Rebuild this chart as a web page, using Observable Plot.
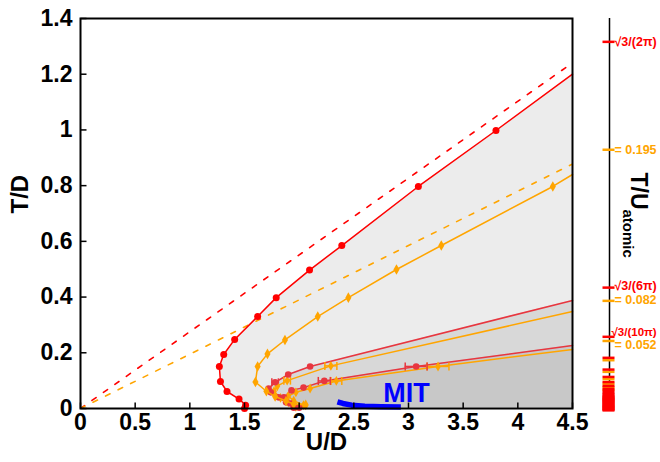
<!DOCTYPE html>
<html>
<head>
<meta charset="utf-8">
<script src="https://cdn.jsdelivr.net/npm/d3@7"></script>
<script src="https://cdn.jsdelivr.net/npm/@observablehq/plot@0.6"></script>
<style>
  html, body { margin: 0; padding: 0; background: #fff; }
  svg { display: block; }
</style>
</head>
<body>
<script>
// ---------- data ----------
const xTicks = [0, 0.5, 1, 1.5, 2, 2.5, 3, 3.5, 4, 4.5];
const xTickLabels = ["0", "0.5", "1", "1.5", "2", "2.5", "3", "3.5", "4", "4.5"];
const yTicks = [0, 0.2, 0.4, 0.6, 0.8, 1, 1.2, 1.4];
const yTickLabels = ["0", "0.2", "0.4", "0.6", "0.8", "1", "1.2", "1.4"];

// main boundary curves (U/D, T/D)
const redMainU = [1.50, 1.51, 1.45, 1.34, 1.28, 1.27, 1.31, 1.41, 1.62, 1.79, 2.095, 2.39, 3.09, 3.80, 4.50];
const redMainT = [0.000, 0.012, 0.034, 0.061, 0.097, 0.151, 0.194, 0.248, 0.330, 0.398, 0.497, 0.585, 0.797, 0.998, 1.200];
const orMainU = [2.06, 1.95, 1.88, 1.78, 1.70, 1.60, 1.62, 1.71, 1.87, 2.17, 2.45, 2.89, 3.30, 4.32, 4.50];
const orMainT = [0.013, 0.016, 0.027, 0.043, 0.062, 0.095, 0.151, 0.196, 0.246, 0.330, 0.398, 0.499, 0.585, 0.797, 0.840];

// inner curves
const redUpU = [1.95, 1.88, 1.81, 1.74, 1.72, 1.78, 1.90, 2.10, 4.50];
const redUpT = [0.003, 0.022, 0.040, 0.058, 0.072, 0.094, 0.122, 0.151, 0.388];
const orUpU = [1.97, 1.90, 1.83, 1.77, 1.80, 1.89, 2.29, 4.50];
const orUpT = [0.006, 0.022, 0.038, 0.062, 0.080, 0.100, 0.153, 0.348];
const redLoU = [2.00, 1.92, 1.86, 1.93, 2.04, 2.23, 3.07, 4.50];
const redLoT = [0.003, 0.018, 0.040, 0.065, 0.075, 0.099, 0.151, 0.226];
const orLoU = [2.04, 1.95, 1.90, 1.97, 2.10, 2.34, 3.27, 4.50];
const orLoT = [0.012, 0.028, 0.045, 0.058, 0.072, 0.099, 0.151, 0.212];

// error bars on inner curves
const errU = [3.07, 3.27, 2.29, 2.23, 2.34, 1.78, 1.89];
const errT = [0.151, 0.151, 0.153, 0.099, 0.099, 0.094, 0.100];
const errE = [0.10, 0.10, 0.055, 0.055, 0.05, 0.03, 0.03];
const errSeries = ["red", "orange", "orange", "red", "orange", "red", "orange"];

// high-T asymptotes T = slope * U
const asymU = [0, 4.5];
const slopeRed = 0.2757;   // sqrt(3)/(2 pi)
const slopeOrange = 0.195;

// MIT line
const mitU = [2.35, 2.40, 2.48, 2.60, 2.75, 2.93];
const mitT = [0.024, 0.018, 0.012, 0.008, 0.006, 0.005];
const mitLabel = [{U: 2.77, T: 0.022, text: "MIT"}];

// right axis: T/U_atomic
const rightRedT = [0.2757, 0.0919, 0.0551, 0.0394, 0.0306, 0.0251, 0.0212, 0.0184, 0.0162, 0.0145, 0.0131,
  0.0120, 0.0110, 0.0102, 0.0095, 0.0089, 0.0083, 0.0077, 0.0071, 0.0064, 0.0057, 0.0050, 0.0043, 0.0036,
  0.0030, 0.0024, 0.0018, 0.0012, 0.0006, 0.0001];
const rightOrangeT = [0.195, 0.082, 0.052, 0.0376, 0.0289, 0.0234, 0.0200, 0.0175, 0.0155];
const rightLabels = ["\u221A3/(2\u03C0)", "= 0.195", "\u221A3/(6\u03C0)", "= 0.082", "\u221A3/(10\u03C0)", "= 0.052"];
const rightLabelT = [0.2757, 0.195, 0.0919, 0.082, 0.0551, 0.052];
const rightLabelSeries = ["red", "orange", "red", "orange", "red", "orange"];

// ---------- styling / layout ----------
const FONT = '"Liberation Sans", Arial, Helvetica, sans-serif';
const COL = {red: "#ff0000", orange: "#ffa500"};
const COL_INNER = {red: "#e8363f", orange: "#ffa500"};
const xMax = 4.5;
const K = 4.8;               // T/D per unit of T/U on the right axis
const labelNudgeY = [0, 0, -2, -1, -5, 4];
const labelDx = [42, 42, 42, 42, 39, 42];
const labelSize = [12.5, 12.5, 12.5, 12.5, 11.5, 12.5];

const zip = (U, T) => U.map((u, i) => ({U: u, T: T[i]}));
const redMain = zip(redMainU, redMainT);
const orMain = zip(orMainU, orMainT);
const redUp = zip(redUpU, redUpT);
const orUp = zip(orUpU, orUpT);
const redLo = zip(redLoU, redLoT);
const orLo = zip(orLoU, orLoT);
const mit = zip(mitU, mitT);
const errs = errU.map((u, i) => ({U: u, T: errT[i], e: errE[i], s: errSeries[i]}));
const asymRed = asymU.map(u => ({U: u, T: slopeRed * u}));
const asymOr = asymU.map(u => ({U: u, T: slopeOrange * u}));

const tickUp = {draw(c) { c.moveTo(0, 0); c.lineTo(0, -6); }};
const tickRight = {draw(c) { c.moveTo(0, 0); c.lineTo(6, 0); }};
const rightTick = {draw(c) { c.moveTo(-7, 0); c.lineTo(5, 0); }};
const capSym = {draw(c) { c.moveTo(0, -4); c.lineTo(0, 4); }};

const innerLine = (data, s) => Plot.line(data, {x: "U", y: "T", stroke: COL_INNER[s], strokeWidth: 1.5});
const innerDots = (data, s) => Plot.dot(data.slice(0, -1), {x: "U", y: "T", fill: COL_INNER[s], r: s === "red" ? 3.3 : 3,
  symbol: s === "red" ? "circle" : "diamond"});

const rightLabelMarks = rightLabels.map((lab, i) =>
  Plot.text([lab], {x: xMax, y: rightLabelT[i] * K, dx: labelDx[i], dy: 2 + labelNudgeY[i], text: d => d,
    fill: COL[rightLabelSeries[i]], fontSize: labelSize[i], fontWeight: "bold", textAnchor: "start"}));

const chart = Plot.plot({
  width: 660,
  height: 462,
  marginLeft: 80,
  marginRight: 88,
  marginTop: 18,
  marginBottom: 54,
  style: {fontFamily: FONT, fontSize: "24px", fontWeight: "bold", background: "#fff"},
  x: {domain: [0, 4.5]},
  y: {domain: [0, 1.4]},
  marks: [
    // shaded regions
    Plot.areaX(redMain, {y: "T", x1: "U", x2: xMax, fill: "#ececec"}),
    Plot.areaX(redUp, {y: "T", x1: "U", x2: xMax, fill: "#d8d8d8"}),
    Plot.areaX(redLo, {y: "T", x1: "U", x2: xMax, fill: "#c8c8c8"}),

    // asymptotes
    Plot.line(asymRed, {x: "U", y: "T", stroke: COL.red, strokeWidth: 1.6, strokeDasharray: "5,9", clip: true}),
    Plot.line(asymOr, {x: "U", y: "T", stroke: COL.orange, strokeWidth: 1.6, strokeDasharray: "5,9", clip: true}),

    // inner curves
    innerLine(orUp, "orange"),
    innerLine(orLo, "orange"),
    innerLine(redUp, "red"),
    innerLine(redLo, "red"),
    Plot.ruleY(errs, {y: "T", x1: d => d.U - d.e, x2: d => d.U + d.e, stroke: d => COL_INNER[d.s], strokeWidth: 1.5}),
    Plot.dot(errs, {x: d => d.U - d.e, y: "T", symbol: capSym, fill: "none", stroke: d => COL_INNER[d.s], strokeWidth: 1.5}),
    Plot.dot(errs, {x: d => d.U + d.e, y: "T", symbol: capSym, fill: "none", stroke: d => COL_INNER[d.s], strokeWidth: 1.5}),
    innerDots(orUp, "orange"),
    innerDots(orLo, "orange"),
    innerDots(redUp, "red"),
    innerDots(redLo, "red"),

    // main curves
    Plot.line(orMain, {x: "U", y: "T", stroke: COL.orange, strokeWidth: 1.5}),
    Plot.dot(orMain.slice(0, -1), {x: "U", y: "T", fill: COL.orange, symbol: "diamond", r: 3.2}),
    Plot.line(redMain, {x: "U", y: "T", stroke: COL.red, strokeWidth: 1.5}),
    Plot.dot(redMain.slice(0, -1), {x: "U", y: "T", fill: COL.red, r: 3.5}),

    // MIT
    Plot.line(mit, {x: "U", y: "T", stroke: "#0000ff", strokeWidth: 5.5, strokeLinecap: "butt"}),
    Plot.text(mitLabel, {x: "U", y: "T", text: "text", fill: "#0000ff", fontSize: 27, fontWeight: "bold",
      textAnchor: "start", lineAnchor: "bottom"}),

    // frame & axes
    Plot.frame({stroke: "#000", strokeWidth: 2}),
    Plot.dot(xTicks, {x: d => d, y: 0, symbol: tickUp, fill: "none", stroke: "#000", strokeWidth: 1.5}),
    Plot.dot(yTicks, {x: 0, y: d => d, symbol: tickRight, fill: "none", stroke: "#000", strokeWidth: 1.5}),
    Plot.axisX({ticks: xTicks, tickSize: 0, tickPadding: 5, tickFormat: (d, i) => xTickLabels[i], label: null,
      fontSize: 23, fontWeight: "bold"}),
    Plot.axisY({ticks: yTicks, tickSize: 0, tickPadding: 8, tickFormat: (d, i) => yTickLabels[i], label: null,
      fontSize: 23, fontWeight: "bold"}),
    Plot.text(["U/D"], {frameAnchor: "bottom", dy: 34, text: d => d, fontSize: 24, fontWeight: "bold", lineAnchor: "middle"}),
    Plot.text(["T/D"], {frameAnchor: "left", dx: -60, text: d => d, rotate: -90, fontSize: 24, fontWeight: "bold", lineAnchor: "middle"}),

    // right axis (T/U atomic)
    Plot.ruleX([xMax], {dx: 37, y1: 0, y2: 1.4, stroke: "#000", strokeWidth: 1.5}),
    Plot.dot(rightOrangeT, {x: xMax, y: t => t * K, dx: 37, dy: 2, symbol: rightTick, fill: "none", stroke: COL.orange, strokeWidth: 2.5}),
    Plot.dot(rightRedT, {x: xMax, y: t => t * K, dx: 37, dy: 2, symbol: rightTick, fill: "none", stroke: COL.red, strokeWidth: 2.5}),
    ...rightLabelMarks,
    Plot.text(["T/U"], {frameAnchor: "right", dx: 58, dy: -41, text: d => d, rotate: 90, fontSize: 23, fontWeight: "bold",
      textAnchor: "start", lineAnchor: "bottom"}),
    Plot.text(["atomic"], {frameAnchor: "right", dx: 50, dy: -4, text: d => d, rotate: 90, fontSize: 15, fontWeight: "bold",
      textAnchor: "start", lineAnchor: "bottom"})
  ]
});
document.body.appendChild(chart);
</script>
</body>
</html>
